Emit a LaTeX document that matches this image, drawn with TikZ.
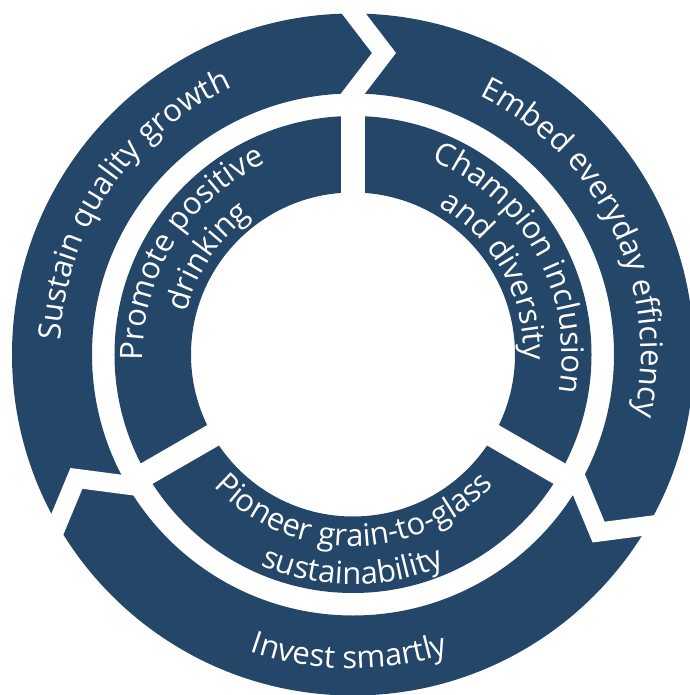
\documentclass[tikz,border=0pt]{standalone}
\usepackage{fontspec}
\setmainfont{Open Sans}
\usetikzlibrary{decorations.text}

\definecolor{ringblue}{RGB}{36,70,104}

\tikzstyle{ring}   = [fill=ringblue, even odd rule]
\tikzstyle{gap}    = [fill=white]
\tikzstyle{curved} = [decorate, decoration={text along path, text align=center, text color=white}]

\def\ringfont{\fontsize{31}{37}\selectfont}
% white notch between two arrows of the outer ring, #1 = angle of the cut
\def\notch#1{
  \fill[gap, rotate=#1-90] (-19.75,352.1) -- (19,301.5) -- (-19.75,250.9)
    -- (4.25,250.9) -- (43,301.5) -- (4.25,352.1) -- cycle;
}
% text on an arc: #1 radius, #2 middle angle, #3 text
\def\cwtext#1#2#3{
  \path[curved, decoration={text={|\ringfont|#3}}]
    (#2+80:#1) arc[start angle=#2+80, end angle=#2-80, radius=#1];
}
\def\ccwtext#1#2#3{
  \path[curved, decoration={text={|\ringfont|#3}}]
    (#2-80:#1) arc[start angle=#2-80, end angle=#2+80, radius=#1];
}

\begin{document}
\begin{tikzpicture}[x=1pt, y=1pt]
  \useasboundingbox (-353,-340.5) rectangle (336,354.5);
  % the two rings
  \fill[ring] (0,0) circle (341) (0,0) circle (261);
  \fill[ring] (0,0) circle (238.5) (0,0) circle (162);
  % cuts
  \foreach \a in {90,210,330}
    \notch{\a};
  \foreach \a in {90,210,330}
    \fill[gap, rotate=\a-90] (-11.75,150) rectangle (11.75,250);
  % outer ring
  \cwtext{293}{145.8}{Sustain quality growth}
  \cwtext{288}{25.9}{Embed everyday efficiency}
  \ccwtext{314}{269.3}{Invest smartly}
  % inner ring
  \cwtext{210}{148}{Promote positive}
  \cwtext{172}{146}{drinking}
  \cwtext{209}{28.8}{Champion inclusion}
  \cwtext{171}{29}{and diversity}
  \ccwtext{192}{270.4}{Pioneer grain-to-glass}
  \ccwtext{230}{269.9}{sustainability}
\end{tikzpicture}
\end{document}
